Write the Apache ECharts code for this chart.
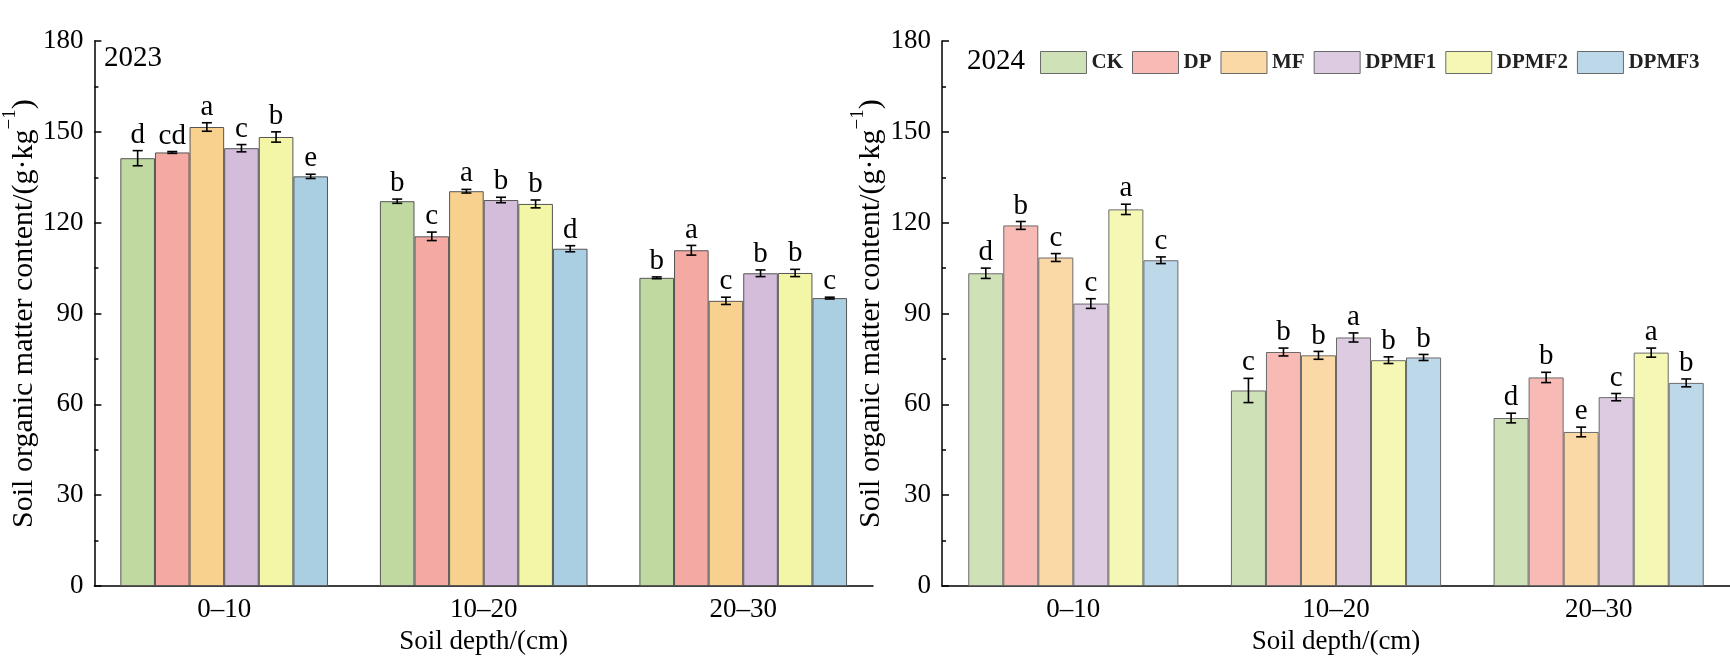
<!DOCTYPE html>
<html>
<head>
<meta charset="utf-8">
<script src="https://cdn.jsdelivr.net/npm/echarts@6/dist/echarts.min.js"></script>
<style>
  html, body { margin: 0; padding: 0; background: #fff; }
  #chart { width: 1730px; height: 660px; }
</style>
</head>
<body>
<div id="chart"></div>
<script>
// ---------- data ----------
const depths = ['0–10', '10–20', '20–30'];
const treatments = ['CK', 'DP', 'MF', 'DPMF1', 'DPMF2', 'DPMF3'];
const yTicks = [0, 30, 60, 90, 120, 150, 180];

// rows = treatments, columns = depths
const mean2023 = [
  [141.3, 127.1, 101.8],
  [143.2, 115.5, 110.9],
  [151.6, 130.4, 94.2],
  [144.6, 127.5, 103.3],
  [148.3, 126.2, 103.4],
  [135.3, 111.4, 95.1]
];
const sd2023 = [
  [2.5, 0.7, 0.3],
  [0.3, 1.4, 1.6],
  [1.4, 0.6, 1.2],
  [1.2, 0.9, 1.1],
  [1.7, 1.3, 1.2],
  [0.7, 1.0, 0.3]
];
const sig2023 = [
  ['d', 'b', 'b'],
  ['cd', 'c', 'a'],
  ['a', 'a', 'c'],
  ['c', 'b', 'b'],
  ['b', 'b', 'b'],
  ['e', 'd', 'c']
];

const mean2024 = [
  [103.3, 64.6, 55.5],
  [119.1, 77.3, 68.9],
  [108.5, 76.2, 50.9],
  [93.3, 82.1, 62.4],
  [124.4, 74.6, 77.1],
  [107.6, 75.5, 67.1]
];
const sd2024 = [
  [1.7, 4.0, 1.6],
  [1.3, 1.3, 1.7],
  [1.3, 1.3, 1.6],
  [1.6, 1.5, 1.2],
  [1.7, 1.1, 1.5],
  [1.1, 1.0, 1.3]
];
const sig2024 = [
  ['d', 'c', 'd'],
  ['b', 'b', 'b'],
  ['c', 'b', 'e'],
  ['c', 'a', 'c'],
  ['a', 'b', 'a'],
  ['c', 'b', 'b']
];

// ---------- styles ----------
const colors2023 = ['#bfd9a1', '#f4a9a2', '#f9d18e', '#d3bddb', '#f3f6a6', '#aacfe2'];
const colors2024 = ['#cfe1b7', '#f8bab5', '#fbd9a6', '#dccbe1', '#f5f8b5', '#bdd9e9'];
const FONT = 'Liberation Serif';

const chart = echarts.init(document.getElementById('chart'), null, { renderer: 'canvas' });

function yAxisFor(gridIndex) {
  return {
    type: 'value', gridIndex: gridIndex, min: yTicks[0], max: yTicks[yTicks.length - 1], interval: 30,
    name: '{t|Soil organic matter content/(g·kg}{s|−1}{t|)}',
    nameLocation: 'middle', nameGap: 43,
    nameTextStyle: {
      color: '#000', fontFamily: FONT, fontSize: 30,
      rich: {
        t: { fontFamily: FONT, fontSize: 30, color: '#000', lineHeight: 38, verticalAlign: 'bottom' },
        s: { fontFamily: FONT, fontSize: 19, color: '#000', lineHeight: 19, verticalAlign: 'top' }
      }
    },
    axisLine: { show: true, lineStyle: { color: '#000', width: 1.5 } },
    axisTick: { show: true, inside: true, length: 7, lineStyle: { color: '#000', width: 1.5 } },
    minorTick: { show: true, splitNumber: 2, length: 4, lineStyle: { color: '#000', width: 1.5 } },
    splitLine: { show: false },
    axisLabel: { color: '#000', fontFamily: FONT, fontSize: 27, margin: 11 }
  };
}
function xAxisFor(gridIndex) {
  return {
    type: 'category', gridIndex: gridIndex, data: depths, boundaryGap: true,
    name: 'Soil depth/(cm)', nameLocation: 'middle', nameGap: 31,
    nameTextStyle: { color: '#000', fontFamily: FONT, fontSize: 27 },
    axisLine: { show: true, lineStyle: { color: '#000', width: 1.5 } },
    axisTick: { show: false },
    splitLine: { show: false },
    axisLabel: { color: '#000', fontFamily: FONT, fontSize: 27, margin: 10, interval: 0 }
  };
}

function barSeries(gridIndex, means, colors, border) {
  return treatments.map((name, i) => ({
    type: 'bar', name: name,
    xAxisIndex: gridIndex, yAxisIndex: gridIndex,
    data: means[i],
    barGap: '0%', barCategoryGap: '20%',
    itemStyle: { color: colors[i], borderColor: border, borderWidth: 1 },
    emphasis: { disabled: true },
    z: 2
  }));
}

function errSeries(gridIndex, means, sds, sigs) {
  const data = [];
  treatments.forEach((t, si) => {
    depths.forEach((d, ci) => {
      data.push([ci, means[si][ci], sds[si][ci], si]);
    });
  });
  return {
    type: 'custom', xAxisIndex: gridIndex, yAxisIndex: gridIndex,
    data: data, z: 5, silent: true,
    encode: { x: 0, y: 1 },
    renderItem: function (params, api) {
      const ci = api.value(0), v = api.value(1), e = api.value(2), si = api.value(3);
      const band = api.size([1, 0])[0];
      const bw = band * 0.8 / treatments.length;
      const xoff = -band * 0.4 + bw * (si + 0.5);
      const top = api.coord([ci, v + e]);
      const bot = api.coord([ci, v - e]);
      const x = top[0] + xoff;
      const cap = 5;
      const ls = { stroke: '#000', lineWidth: 1.6 };
      return {
        type: 'group',
        children: [
          { type: 'line', shape: { x1: x, y1: top[1], x2: x, y2: bot[1] }, style: ls },
          { type: 'line', shape: { x1: x - cap, y1: top[1], x2: x + cap, y2: top[1] }, style: ls },
          { type: 'line', shape: { x1: x - cap, y1: bot[1], x2: x + cap, y2: bot[1] }, style: ls },
          { type: 'text', style: {
              text: sigs[si][ci], x: x, y: top[1] - 1,
              align: 'center', verticalAlign: 'bottom',
              font: '29px "Liberation Serif"', fill: '#000'
          } }
        ]
      };
    }
  };
}

const option = {
  animation: false,
  backgroundColor: '#fff',
  title: [
    { text: '2023', left: 104, top: 44, padding: 0,
      textStyle: { fontFamily: FONT, fontSize: 29, fontWeight: 'normal', color: '#000' } },
    { text: '2024', left: 967, top: 47, padding: 0,
      textStyle: { fontFamily: FONT, fontSize: 29, fontWeight: 'normal', color: '#000' } }
  ],
  legend: {
    left: 1040, top: 51, orient: 'horizontal', padding: 0,
    itemWidth: 46, itemHeight: 22, itemGap: 9, icon: 'rect',
    selectedMode: false,
    textStyle: { fontFamily: FONT, fontSize: 21, fontWeight: 'bold', color: '#222' },
    data: treatments.map((t, i) => ({
      name: t, icon: 'rect',
      itemStyle: { color: colors2024[i], borderColor: '#6a6a6a', borderWidth: 1 }
    }))
  },
  grid: [
    { left: 84, top: 41, width: 789, bottom: 67, containLabel: false },
    { left: 942, top: 41, width: 788, bottom: 67, containLabel: false }
  ],
  xAxis: [xAxisFor(0), xAxisFor(1)],
  yAxis: [yAxisFor(0), yAxisFor(1)],
  series: [
    ...barSeries(1, mean2024, colors2024, '#6a6a6a'),
    ...barSeries(0, mean2023, colors2023, '#555'),
    errSeries(0, mean2023, sd2023, sig2023),
    errSeries(1, mean2024, sd2024, sig2024)
  ]
};
chart.setOption(option);
</script>
</body>
</html>
